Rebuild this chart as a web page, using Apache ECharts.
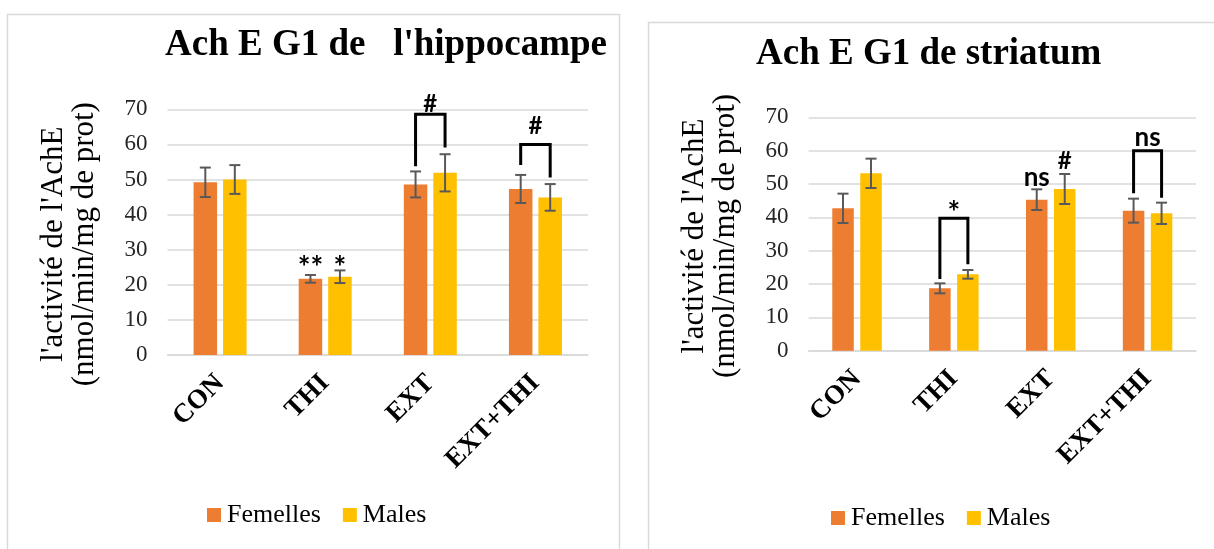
<!DOCTYPE html>
<html>
<head>
<meta charset="utf-8">
<script src="https://cdn.jsdelivr.net/npm/echarts@6/dist/echarts.min.js"></script>
<style>
  html, body { margin: 0; padding: 0; background: #ffffff; }
  #chart { width: 1214px; height: 549px; }
</style>
</head>
<body>
<div id="chart"></div>
<script>
// Groups and axis ticks shared by both panels
const groups = ['CON', 'THI', 'EXT', 'EXT+THI'];
const yTicks = [0, 10, 20, 30, 40, 50, 60, 70];

// Hippocampus: mean AChE activity and error (nmol/min/mg de prot)
const hippoFemelles = [49.2, 21.7, 48.6, 47.3];
const hippoFemellesErr = [4.2, 1.1, 3.7, 4.0];
const hippoMales = [50.0, 22.3, 51.9, 44.9];
const hippoMalesErr = [4.1, 1.8, 5.3, 3.8];

// Striatum
const striFemelles = [42.7, 18.7, 45.3, 42.0];
const striFemellesErr = [4.4, 1.5, 3.1, 3.6];
const striMales = [53.2, 22.9, 48.5, 41.2];
const striMalesErr = [4.4, 1.3, 4.5, 3.2];

// Significance marks: group index, which bar (-1 Femelles, 0 pair, 1 Males), value height
const hippoMarks = [
  { cat: 1, side: -1, y: 24.8, text: '**', size: 30 },
  { cat: 1, side: 1, y: 24.6, text: '*', size: 30 },
  { cat: 2, side: 0, y: 71.5, text: '#', size: 24 },
  { cat: 3, side: 0, y: 65.1, text: '#', size: 24 }
];
const striMarks = [
  { cat: 1, side: 0, y: 41.2, text: '*', size: 30 },
  { cat: 2, side: -1, y: 52.0, text: 'ns', size: 26 },
  { cat: 2, side: 1, y: 56.9, text: '#', size: 24 },
  { cat: 3, side: 0, y: 63.9, text: 'ns', size: 26 }
];
// Brackets between the two bars of a group: [group, left leg bottom, top, right leg bottom]
const hippoBrackets = [[2, 53.8, 68.6, 59.1], [3, 54.1, 60.0, 50.6]];
const striBrackets = [[1, 21.5, 39.7, 25.9], [3, 47.2, 60.0, 45.9]];

const ORANGE = '#ED7D31';
const YELLOW = '#FFC000';
const SERIF = "'Liberation Serif', 'Times New Roman', serif";
const SANS = "Lato, 'Liberation Sans', sans-serif";

// Bar geometry per panel (pixels)
const panels = [
  { barW: 23.5, gap: 6.0, grid: { left: 167.5, top: 109.3, width: 420.5, height: 245.7 } },
  { barW: 21.5, gap: 6.5, grid: { left: 808.6, top: 117.3, width: 387.4, height: 233.4 } }
];
panels.forEach(p => { p.offset = (p.barW + p.gap) / 2; });

function barSeries(idx, name, values, color) {
  const p = panels[idx];
  return {
    type: 'bar', name: name, xAxisIndex: idx, yAxisIndex: idx,
    data: values, barWidth: p.barW,
    barGap: (p.gap / p.barW * 100).toFixed(1) + '%',
    itemStyle: { color: color },
    silent: true, z: 2
  };
}

function errorSeries(idx, values, errs, side) {
  const p = panels[idx];
  return {
    type: 'custom', xAxisIndex: idx, yAxisIndex: idx, z: 5, silent: true, clip: false,
    data: values.map((v, i) => [i, v, errs[i]]),
    renderItem(params, api) {
      const i = api.value(0), m = api.value(1), e = api.value(2);
      const top = api.coord([i, m + e]);
      const bot = api.coord([i, m - e]);
      const x = top[0] + side * p.offset;
      const h = 5.5;
      const st = { stroke: '#595959', lineWidth: 2 };
      return {
        type: 'group', children: [
          { type: 'line', shape: { x1: x, y1: top[1], x2: x, y2: bot[1] }, style: st },
          { type: 'line', shape: { x1: x - h, y1: top[1], x2: x + h, y2: top[1] }, style: st },
          { type: 'line', shape: { x1: x - h, y1: bot[1], x2: x + h, y2: bot[1] }, style: st }
        ]
      };
    }
  };
}

function bracketSeries(idx, brackets) {
  const p = panels[idx];
  return {
    type: 'custom', xAxisIndex: idx, yAxisIndex: idx, z: 6, silent: true, clip: false,
    data: brackets,
    renderItem(params, api) {
      const c = api.value(0);
      const l = api.coord([c, api.value(1)]);
      const t = api.coord([c, api.value(2)]);
      const r = api.coord([c, api.value(3)]);
      const xl = l[0] - p.offset, xr = l[0] + p.offset;
      return {
        type: 'polyline',
        shape: { points: [[xl, l[1]], [xl, t[1]], [xr, t[1]], [xr, r[1]]] },
        style: { stroke: '#000', lineWidth: 3, fill: null }
      };
    }
  };
}

function markSeries(idx, marks) {
  const p = panels[idx];
  return {
    type: 'custom', xAxisIndex: idx, yAxisIndex: idx, z: 7, silent: true, clip: false,
    data: marks.map(m => [m.cat, m.y]),
    renderItem(params, api) {
      const m = marks[params.dataIndex];
      const pt = api.coord([api.value(0), api.value(1)]);
      return {
        type: 'text',
        style: {
          text: m.text, x: pt[0] + m.side * p.offset, y: pt[1],
          align: 'center', verticalAlign: 'middle',
          font: 'bold ' + m.size + 'px ' + SANS, fill: '#000'
        }
      };
    }
  };
}

function xAxis(idx) {
  return {
    type: 'category', gridIndex: idx, data: groups,
    axisTick: { show: false },
    axisLine: { lineStyle: { color: '#D9D9D9', width: 1.5 } },
    axisLabel: {
      interval: 0, rotate: 45, margin: 24,
      fontFamily: SERIF, fontWeight: 'bold', fontSize: 27, color: '#000'
    }
  };
}

function yAxis(idx, pad) {
  return {
    type: 'value', gridIndex: idx,
    min: yTicks[0], max: yTicks[yTicks.length - 1], interval: yTicks[1] - yTicks[0],
    axisLine: { show: false }, axisTick: { show: false },
    splitLine: { lineStyle: { color: '#D9D9D9', width: 1.5 } },
    axisLabel: { margin: 20, fontFamily: SERIF, fontSize: 23, color: '#262626' },
    name: "l'activité de l'AchE\n(nmol/min/mg de prot)",
    nameLocation: 'middle', nameRotate: 90, nameGap: 67,
    nameTextStyle: {
      fontFamily: SERIF, fontSize: 31, lineHeight: 31, color: '#000',
      padding: [0, pad, 0, 0]
    }
  };
}

const chart = echarts.init(document.getElementById('chart'), null, { renderer: 'canvas' });
chart.setOption({
  animation: false,
  backgroundColor: '#ffffff',
  graphic: [
    { type: 'rect', shape: { x: 7.5, y: 14.5, width: 612, height: 560 },
      style: { fill: null, stroke: '#D9D9D9', lineWidth: 1.5 }, silent: true },
    { type: 'rect', shape: { x: 648.5, y: 22.5, width: 600, height: 560 },
      style: { fill: null, stroke: '#D9D9D9', lineWidth: 1.5 }, silent: true }
  ],
  title: [
    { text: "Ach E G1 de   l'hippocampe", left: 165, top: 27, padding: 0,
      textStyle: { fontFamily: SERIF, fontWeight: 'bold', fontSize: 37, color: '#000' } },
    { text: 'Ach E G1 de striatum', left: 756, top: 36, padding: 0,
      textStyle: { fontFamily: SERIF, fontWeight: 'bold', fontSize: 37, color: '#000' } }
  ],
  legend: [
    { data: ['Femelles', 'Males'], left: 207, top: 502, padding: 0, itemWidth: 14, itemHeight: 14,
      itemGap: 22, icon: 'rect', selectedMode: false,
      textStyle: { fontFamily: SERIF, fontSize: 26, color: '#000', padding: [0, 0, 0, 1] } },
    { data: ['Femelles', 'Males'], left: 831, top: 505, padding: 0, itemWidth: 14, itemHeight: 14,
      itemGap: 22, icon: 'rect', selectedMode: false,
      textStyle: { fontFamily: SERIF, fontSize: 26, color: '#000', padding: [0, 0, 0, 1] } }
  ],
  grid: panels.map(p => Object.assign({ containLabel: false }, p.grid)),
  xAxis: [xAxis(0), xAxis(1)],
  yAxis: [yAxis(0, 24), yAxis(1, 4)],
  series: [
    barSeries(0, 'Femelles', hippoFemelles, ORANGE),
    barSeries(0, 'Males', hippoMales, YELLOW),
    errorSeries(0, hippoFemelles, hippoFemellesErr, -1),
    errorSeries(0, hippoMales, hippoMalesErr, 1),
    bracketSeries(0, hippoBrackets),
    markSeries(0, hippoMarks),
    barSeries(1, 'Femelles', striFemelles, ORANGE),
    barSeries(1, 'Males', striMales, YELLOW),
    errorSeries(1, striFemelles, striFemellesErr, -1),
    errorSeries(1, striMales, striMalesErr, 1),
    bracketSeries(1, striBrackets),
    markSeries(1, striMarks)
  ]
});
</script>
</body>
</html>
